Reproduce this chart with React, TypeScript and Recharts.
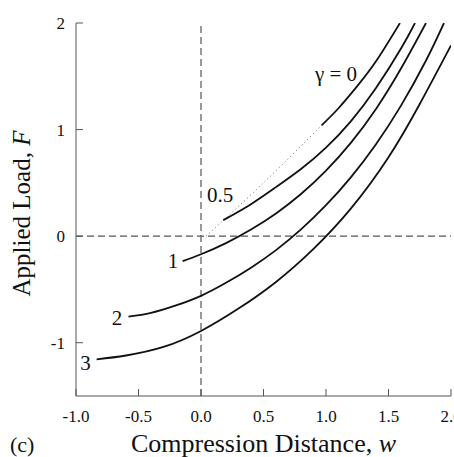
import { Label, Line, LineChart, ReferenceDot, ReferenceLine, XAxis, YAxis } from "recharts"

const SERIF = "'Liberation Serif', 'Times New Roman', serif"

const X_TICKS = [-1, -0.5, 0, 0.5, 1, 1.5, 2]
const Y_TICKS = [-1, 0, 1, 2]

// gamma = 0 (solid part) and its dotted continuation down to the origin
const gamma0W = [0.965, 1.1, 1.245, 1.4, 1.592]
const gamma0F = [1.04, 1.2, 1.4, 1.64, 2.0]
const gamma0DotW = [0.04, 0.5, 0.965]
const gamma0DotF = [0, 0.5, 1.04]

const gamma05W = [0.178, 0.4, 0.6, 0.8, 1.0, 1.2, 1.4, 1.6, 1.712]
const gamma05F = [0.15, 0.3, 0.46, 0.63, 0.83, 1.08, 1.39, 1.76, 2.0]

const gamma1W = [-0.147, 0, 0.2, 0.4, 0.6, 0.8, 1.0, 1.2, 1.4, 1.6, 1.8]
const gamma1F = [-0.234, -0.17, -0.065, 0.062, 0.213, 0.395, 0.615, 0.878, 1.194, 1.573, 2.0]

const gamma2W = [-0.58, -0.4, -0.2, 0, 0.2, 0.4, 0.6, 0.8, 1.0, 1.2, 1.4, 1.6, 1.8, 1.944]
const gamma2F = [-0.756, -0.72, -0.65, -0.56, -0.438, -0.296, -0.131, 0.063, 0.29, 0.554, 0.863, 1.225, 1.648, 2.0]

const gamma3W = [-0.835, -0.6, -0.3, 0, 0.3, 0.6, 0.9, 1.2, 1.5, 1.75, 2.0]
const gamma3F = [-1.156, -1.12, -1.04, -0.89, -0.68, -0.43, -0.12, 0.26, 0.74, 1.24, 1.79]

// curve annotations (text, and where it sits in data units)
const curveLabels = ["γ = 0", "0.5", "1", "2", "3"]
const labelW = [1.08, 0.152, -0.224, -0.672, -0.924]
const labelF = [1.46, 0.32, -0.3, -0.834, -1.256]

const toPoints = (w: number[], f: number[]) => w.map((v, i) => ({ w: v, F: f[i] }))

const solidCurves = [
  { name: "g0", data: toPoints(gamma0W, gamma0F) },
  { name: "g05", data: toPoints(gamma05W, gamma05F) },
  { name: "g1", data: toPoints(gamma1W, gamma1F) },
  { name: "g2", data: toPoints(gamma2W, gamma2F) },
  { name: "g3", data: toPoints(gamma3W, gamma3F) },
]

function CurveText({ viewBox, value }: any) {
  return (
    <text x={viewBox.x} y={viewBox.y} textAnchor="middle" fontFamily={SERIF} fontSize={21} fill="#111">
      {value}
    </text>
  )
}

// titles sit at fixed spots outside the plot, like the scanned figure
function XTitle() {
  return (
    <g fontFamily={SERIF} fill="#111">
      <text x={10} y={452} fontSize={22}>(c)</text>
      <text x={263.5} y={452} fontSize={26} textAnchor="middle">
        Compression Distance, <tspan fontStyle="italic">w</tspan>
      </text>
    </g>
  )
}

function YTitle() {
  const x = 30
  const cy = 213.5
  return (
    <text
      x={x}
      y={cy}
      transform={`rotate(-90 ${x} ${cy})`}
      textAnchor="middle"
      fontFamily={SERIF}
      fontSize={25}
      fill="#111"
    >
      Applied Load, <tspan fontStyle="italic">F</tspan>
    </text>
  )
}

const tickStyle = { fontSize: 17, fill: "#111", fontFamily: SERIF }

export default function App() {
  return (
    <div style={{ position: "absolute", left: 0, top: 0, background: "#fff" }}>
      <LineChart width={454} height={457} margin={{ top: 23, right: 3, bottom: 0, left: 0 }}>
        <XAxis
          type="number"
          dataKey="w"
          domain={[-1, 2]}
          ticks={X_TICKS}
          interval={0}
          allowDataOverflow
          height={61}
          tickSize={-7}
          tickMargin={21}
          tickFormatter={(v: number) => v.toFixed(1)}
          tick={tickStyle}
          stroke="#555"
        >
          <Label content={XTitle} />
        </XAxis>
        <XAxis
          xAxisId="top"
          orientation="top"
          type="number"
          dataKey="w"
          domain={[-1, 2]}
          ticks={X_TICKS}
          interval={0}
          allowDataOverflow
          height={0}
          tickSize={-7}
          tick={false}
          stroke="#555"
        />
        <YAxis
          type="number"
          domain={[-1.5, 2]}
          ticks={Y_TICKS}
          interval={0}
          allowDataOverflow
          width={76}
          tickSize={-7}
          tickMargin={18}
          tick={tickStyle}
          stroke="#555"
        >
          <Label content={YTitle} />
        </YAxis>
        <YAxis
          yAxisId="right"
          orientation="right"
          type="number"
          domain={[-1.5, 2]}
          ticks={Y_TICKS}
          interval={0}
          allowDataOverflow
          width={0}
          tickSize={-7}
          tick={false}
          stroke="#555"
        />

        <ReferenceLine x={0} stroke="#555" strokeWidth={1.2} strokeDasharray="7 4" />
        <ReferenceLine y={0} stroke="#555" strokeWidth={1.2} strokeDasharray="7 4" />

        <Line
          data={toPoints(gamma0DotW, gamma0DotF)}
          dataKey="F"
          type="natural"
          stroke="#666"
          strokeWidth={1}
          strokeDasharray="1 3"
          dot={false}
          isAnimationActive={false}
        />
        {solidCurves.map((c) => (
          <Line
            key={c.name}
            data={c.data}
            dataKey="F"
            type="natural"
            stroke="#111"
            strokeWidth={1.8}
            dot={false}
            isAnimationActive={false}
          />
        ))}

        {curveLabels.map((t, i) => (
          <ReferenceDot
            key={t}
            x={labelW[i]}
            y={labelF[i]}
            r={0}
            fill="none"
            stroke="none"
            label={<CurveText value={t} />}
          />
        ))}
      </LineChart>
    </div>
  )
}
